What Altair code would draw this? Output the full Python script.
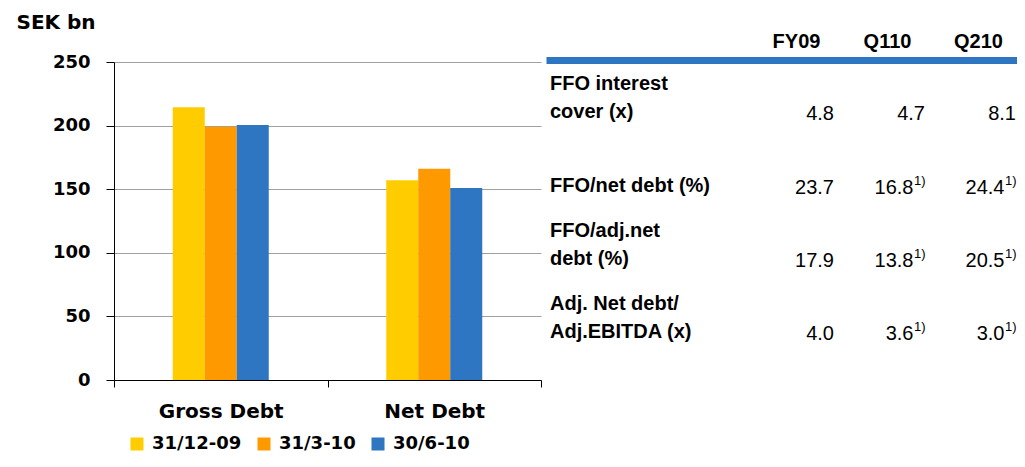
import altair as alt
import pandas as pd

# ---- bar chart data ----
categories = ["Gross Debt", "Net Debt"]
periods = ["31/12-09", "31/3-10", "30/6-10"]
gross_debt = [214.5, 199.0, 200.5]
net_debt = [157.0, 166.0, 151.0]
bar_colors = ["#FFCC00", "#FF9900", "#2E75C2"]
y_ticks = [0, 50, 100, 150, 200, 250]

# ---- table data ----
table_columns = ["FY09", "Q110", "Q210"]
row_ids = ["r1", "r2", "r3", "r4"]
row_label_line1 = ["FFO interest", "", "FFO/adj.net", "Adj. Net debt/"]
row_label_line2 = ["cover (x)", "FFO/net debt (%)", "debt (%)", "Adj.EBITDA (x)"]
fy09_values = ["4.8", "23.7", "17.9", "4.0"]
q110_values = ["4.7", "16.8", "13.8", "3.6"]
q210_values = ["8.1", "24.4", "20.5", "3.0"]
fy09_notes = ["", "", "", ""]
q110_notes = ["", "1)", "1)", "1)"]
q210_notes = ["", "1)", "1)", "1)"]

bar_rows = []
for cat, vals in zip(categories, [gross_debt, net_debt]):
    for p, v in zip(periods, vals):
        bar_rows.append({"category": cat, "period": p, "value": v})
bar_df = pd.DataFrame(bar_rows)

labels_df = pd.DataFrame({"rid": row_ids, "line1": row_label_line1, "line2": row_label_line2})
val_rows = []
for ci, (vals, notes) in enumerate(zip([fy09_values, q110_values, q210_values],
                                       [fy09_notes, q110_notes, q210_notes])):
    for rid, v, n in zip(row_ids, vals, notes):
        val_rows.append({"rid": rid, "col": ci, "value": v, "note": n})
values_df = pd.DataFrame(val_rows)

BOLD_WIDE = "DejaVu Sans"
ARIAL = "Liberation Sans"

PLOT_W = 427
PLOT_H = 318
TABLE_W = 471
BAR_W = 32
band_w = PLOT_W / len(categories)
group_start = (band_w - BAR_W * len(periods)) / 2
no_frame = alt.ViewBackground(stroke="transparent", strokeWidth=0)

bars = alt.Chart(bar_df).mark_bar().encode(
    x=alt.X("category:N", sort=categories,
            scale=alt.Scale(paddingInner=0, paddingOuter=0),
            axis=alt.Axis(title=None, labelAngle=0, tickBand="extent", grid=False,
                          domainColor="black", tickColor="black", tickSize=7,
                          labelPadding=14, labelFont=BOLD_WIDE, labelFontSize=20,
                          labelFontWeight="bold", labelColor="black")),
    xOffset=alt.XOffset("period:N", sort=periods,
                        scale=alt.Scale(paddingInner=0, paddingOuter=0,
                                        range=[group_start, group_start + BAR_W * len(periods)])),
    y=alt.Y("value:Q", scale=alt.Scale(domain=[0, 250]),
            axis=alt.Axis(values=y_ticks, title="SEK bn", titleAngle=0,
                          titleX=-98, titleY=-40, titleAlign="left", titleBaseline="middle",
                          titleFont=BOLD_WIDE, titleFontSize=20, titleFontWeight="bold",
                          titleColor="black",
                          grid=True, gridColor="#a0a0a0", gridWidth=1,
                          domainColor="black", tickColor="black", tickSize=8,
                          labelPadding=16, labelFont=BOLD_WIDE, labelFontSize=18,
                          labelFontWeight="bold", labelColor="black")),
    color=alt.Color("period:N", sort=periods,
                    scale=alt.Scale(domain=periods, range=bar_colors),
                    legend=alt.Legend(orient="none", legendX=14, legendY=373,
                                      direction="horizontal", title=None,
                                      symbolType="square", symbolSize=169,
                                      symbolStrokeWidth=0, labelFont=BOLD_WIDE,
                                      labelFontSize=18, labelFontWeight="bold",
                                      labelColor="black", columnPadding=13,
                                      labelOffset=6, padding=0)),
).properties(width=PLOT_W, height=PLOT_H, view=no_frame)

# column index scale: columns 91px apart, first column centre 250px into the table panel
col_step = 91.0
first_col = 250.0
d0 = -first_col / col_step
d1 = d0 + TABLE_W / col_step
label_expr = "[" + ",".join("'%s'" % c for c in table_columns) + "][datum.value]"

x_enc = alt.X("col:Q",
              scale=alt.Scale(domain=[d0, d1], nice=False, zero=False),
              axis=alt.Axis(orient="top", title=None, values=list(range(len(table_columns))),
                            labelExpr=label_expr, domainColor="#2E75C2",
                            domainWidth=7, ticks=False, tickSize=0, offset=2,
                            labelPadding=9, labelAngle=0, labelFont=ARIAL,
                            labelFontSize=20, labelFontWeight="bold",
                            labelColor="black", grid=False, labelFlush=False))
y_enc = alt.Y("rid:N", sort=row_ids,
              scale=alt.Scale(type="point", padding=0.673, align=0.614),
              axis=None)

lbl1 = alt.Chart(labels_df).mark_text(
    align="left", baseline="bottom", dy=-28, font=ARIAL, fontSize=20,
    fontWeight="bold", color="black"
).encode(x=alt.value(4), y=y_enc, text="line1:N")

lbl2 = alt.Chart(labels_df).mark_text(
    align="left", baseline="bottom", font=ARIAL, fontSize=20,
    fontWeight="bold", color="black"
).encode(x=alt.value(4), y=y_enc, text="line2:N")

vals_plain = alt.Chart(values_df).transform_filter("datum.note == ''").mark_text(
    align="right", baseline="bottom", dx=38, dy=2, font=ARIAL, fontSize=20, color="black"
).encode(x=x_enc, y=y_enc, text="value:N")

vals_noted = alt.Chart(values_df).transform_filter("datum.note != ''").mark_text(
    align="right", baseline="bottom", dx=26.5, dy=2, font=ARIAL, fontSize=20, color="black"
).encode(x=x_enc, y=y_enc, text="value:N")

notes = alt.Chart(values_df).transform_filter("datum.note != ''").mark_text(
    align="right", baseline="bottom", dx=38.5, dy=-8, font=ARIAL, fontSize=13, color="black"
).encode(x=x_enc, y=y_enc, text="note:N")

table = alt.layer(vals_plain, vals_noted, notes, lbl1, lbl2).properties(
    width=TABLE_W, height=PLOT_H, view=no_frame)

chart = alt.hconcat(bars, table, spacing=5, bounds="flush").properties(
    padding={"left": 8, "top": 4, "right": 0, "bottom": 0}
).configure_view(stroke="transparent", strokeWidth=0).configure(background="white")

chart.save("out.html", embed_options={"renderer": "svg", "actions": False})
